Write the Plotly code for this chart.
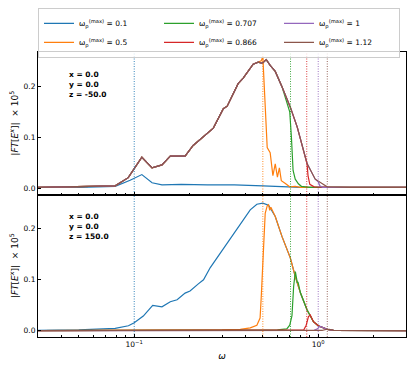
import plotly.graph_objects as go
from plotly.subplots import make_subplots

# omega_p^(max) values and matplotlib tab10 colours
wp_max = [0.1, 0.5, 0.707, 0.866, 1, 1.12]
wp_labels = ["0.1", "0.5", "0.707", "0.866", "1", "1.12"]
colors = ["#1f77b4", "#ff7f0e", "#2ca02c", "#d62728", "#9467bd", "#8c564b"]

# ---- top panel (z = -50) ----
# common curve shared by the 0.5 ... 1.12 runs up to their cut-off
top_w = [0.03, 0.05, 0.0788, 0.0928, 0.110, 0.125, 0.1415, 0.157, 0.189, 0.209,
         0.229, 0.256, 0.269, 0.305, 0.320, 0.367, 0.391, 0.443, 0.472, 0.496,
         0.522, 0.548, 0.584, 0.637, 0.705, 0.769, 0.871, 0.963, 1.119, 1.5, 3.0]
top_v = [0.002, 0.003, 0.005, 0.021, 0.061, 0.040, 0.046, 0.063, 0.063, 0.084,
         0.097, 0.112, 0.118, 0.156, 0.161, 0.205, 0.216, 0.243, 0.247, 0.245,
         0.252, 0.241, 0.229, 0.198, 0.159, 0.120, 0.048, 0.018, 0.003, 0.002, 0.002]

top_blue_w = [0.03, 0.05, 0.0788, 0.095, 0.110, 0.125, 0.1415, 0.18, 0.25, 0.35, 0.5, 0.6, 0.7, 0.8, 3.0]
top_blue_v = [0.002, 0.002, 0.004, 0.016, 0.027, 0.011, 0.007, 0.008, 0.007, 0.007, 0.005, 0.004, 0.003, 0.002, 0.002]

top_orange_tail_w = [0.49, 0.50, 0.515, 0.528, 0.548, 0.567, 0.584, 0.60, 0.615, 0.63, 0.66, 0.675, 0.70, 0.75, 0.8, 3.0]
top_orange_tail_v = [0.250, 0.258, 0.15, 0.08, 0.07, 0.025, 0.048, 0.022, 0.04, 0.015, 0.01, 0.007, 0.003, 0.004, 0.002, 0.002]
top_green_tail_w = [0.70, 0.715, 0.72, 0.73, 0.75, 0.78, 0.81, 0.9, 3.0]
top_green_tail_v = [0.15, 0.10, 0.061, 0.035, 0.018, 0.009, 0.004, 0.002, 0.002]
top_red_tail_w = [0.85, 0.87, 0.88, 0.90, 0.95, 1.2, 3.0]
top_red_tail_v = [0.06, 0.047, 0.025, 0.008, 0.003, 0.002, 0.002]
top_purple_tail_w = [1.0, 1.02, 1.06, 3.0]
top_purple_tail_v = [0.013, 0.005, 0.002, 0.002]

# ---- bottom panel (z = 150) ----
bot_blue_w = [0.03, 0.05, 0.0788, 0.093, 0.1, 0.112, 0.126, 0.1415, 0.157, 0.171,
              0.189, 0.201, 0.223, 0.238, 0.259, 0.293, 0.332, 0.377, 0.427, 0.464,
              0.50, 0.537]
bot_blue_v = [0.001, 0.002, 0.005, 0.010, 0.016, 0.029, 0.050, 0.047, 0.057, 0.061,
              0.074, 0.078, 0.092, 0.100, 0.124, 0.152, 0.182, 0.211, 0.237, 0.248,
              0.250, 0.246]
# falling edge shared by every run once it has switched on
bot_tail_w = [0.584, 0.635, 0.705, 0.751, 0.801, 0.87, 0.942, 1.0, 1.12, 1.21, 3.0]
bot_tail_v = [0.224, 0.185, 0.143, 0.106, 0.074, 0.041, 0.018, 0.010, 0.003, 0.001, 0.0005]

bot_orange_w = [0.03, 0.2, 0.3, 0.377, 0.427, 0.464, 0.483, 0.49, 0.50, 0.515, 0.528, 0.537, 0.545, 0.553]
bot_orange_v = [0.0005, 0.001, 0.002, 0.003, 0.006, 0.011, 0.025, 0.066, 0.133, 0.23, 0.245, 0.247, 0.236, 0.242]
bot_green_w = [0.03, 0.5, 0.6, 0.675, 0.70, 0.72, 0.735, 0.751, 0.762, 0.77, 0.776]
bot_green_v = [0.0005, 0.001, 0.002, 0.004, 0.011, 0.030, 0.087, 0.116, 0.104, 0.094, 0.096]
bot_red_w = [0.03, 0.8, 0.835, 0.86, 0.885, 0.905]
bot_red_v = [0.0005, 0.001, 0.002, 0.011, 0.028, 0.031]
bot_purple_w = [0.03, 0.95, 0.99, 1.02]
bot_purple_v = [0.0005, 0.001, 0.004, 0.009]
bot_brown_w = [0.03, 1.05, 1.1, 1.15, 1.21, 3.0]
bot_brown_v = [0.0005, 0.0008, 0.003, 0.003, 0.001, 0.0005]

y_range = [-0.012, 0.267]
minor_x = [0.03, 0.04, 0.05, 0.06, 0.07, 0.08, 0.09,
           0.2, 0.3, 0.4, 0.5, 0.6, 0.7, 0.8, 0.9, 2, 3]


def upto(w, v, wmax):
    idx = [i for i, x in enumerate(w) if x < wmax]
    return [w[i] for i in idx], [v[i] for i in idx]


def after(w, v, wmin):
    idx = [i for i, x in enumerate(w) if x >= wmin]
    return [w[i] for i in idx], [v[i] for i in idx]


top_series = [(top_blue_w, top_blue_v)]
for tw, tv in [(top_orange_tail_w, top_orange_tail_v), (top_green_tail_w, top_green_tail_v),
               (top_red_tail_w, top_red_tail_v), (top_purple_tail_w, top_purple_tail_v)]:
    hw, hv = upto(top_w, top_v, tw[0])
    top_series.append((hw + tw, hv + tv))
top_series.append((top_w, top_v))

bot_series = [(bot_blue_w + bot_tail_w, bot_blue_v + bot_tail_v)]
for hw, hv in [(bot_orange_w, bot_orange_v), (bot_green_w, bot_green_v),
               (bot_red_w, bot_red_v), (bot_purple_w, bot_purple_v)]:
    tw, tv = after(bot_tail_w, bot_tail_v, hw[-1] + 0.02)
    bot_series.append((hw + tw, hv + tv))
bot_series.append((bot_brown_w, bot_brown_v))

fig = make_subplots(rows=2, cols=1, shared_xaxes=True, vertical_spacing=0)

legend_rank = [1, 4, 2, 5, 3, 6]
for i in range(6):
    name = "ω<sub>p</sub><sup>(max)</sup> = " + wp_labels[i]
    fig.add_trace(go.Scatter(x=top_series[i][0], y=top_series[i][1], mode="lines",
                             line=dict(color=colors[i], width=1.2), name=name,
                             legendrank=legend_rank[i]), row=1, col=1)
    fig.add_trace(go.Scatter(x=bot_series[i][0], y=bot_series[i][1], mode="lines",
                             line=dict(color=colors[i], width=1.2), showlegend=False),
                  row=2, col=1)

# dotted cut-off markers
for i in range(6):
    for r in (1, 2):
        fig.add_trace(go.Scatter(x=[wp_max[i], wp_max[i]], y=y_range, mode="lines",
                                 line=dict(color=colors[i], width=0.9, dash="1px,1.5px"),
                                 showlegend=False, hoverinfo="skip"), row=r, col=1)

axis_common = dict(showline=True, linecolor="black", linewidth=1, mirror=True,
                   ticks="inside", ticklen=3, tickcolor="black", showgrid=False,
                   zeroline=False, automargin=False)

fig.update_xaxes(type="log", range=[-1.523, 0.477],
                 tickvals=[0.1, 1], ticktext=["10<sup>−1</sup>", "10<sup>0</sup>"],
                 minor=dict(ticks="inside", ticklen=2, tickcolor="black", showgrid=False,
                            tickvals=minor_x),
                 **axis_common)
fig.update_xaxes(showticklabels=False, row=1, col=1)
fig.update_xaxes(title=dict(text="<i>ω</i>", standoff=4), row=2, col=1)

ytitle = "|<i>FT</i>[<i>E</i><sup><i>x</i></sup>]|  × 10<sup>5</sup>"
fig.update_yaxes(range=y_range, tickvals=[0, 0.1, 0.2], ticktext=["0.0", "0.1", "0.2"],
                 title=dict(text=ytitle, standoff=8), **axis_common)

fig.add_annotation(text="<b>x = 0.0<br>y = 0.0<br>z = -50.0</b>", xref="x domain", yref="y domain",
                   x=0.08, y=0.89, xanchor="left", yanchor="top", showarrow=False,
                   align="left", font=dict(size=7.5))
fig.add_annotation(text="<b>x = 0.0<br>y = 0.0<br>z = 150.0</b>", xref="x2 domain", yref="y2 domain",
                   x=0.08, y=0.89, xanchor="left", yanchor="top", showarrow=False,
                   align="left", font=dict(size=7.5))

# the page puts the figure 8 px in from the top-left corner
fig.update_layout(
    width=407, height=361,
    margin=dict(l=30, r=9, t=44, b=32, autoexpand=False),
    plot_bgcolor="white", paper_bgcolor="white",
    font=dict(family="DejaVu Sans", size=7.5, color="black"),
    legend=dict(orientation="h", x=0, y=1.155, xanchor="left", yanchor="top",
                bordercolor="#cccccc", borderwidth=1, bgcolor="rgba(255,255,255,0.8)",
                entrywidth=75, font=dict(size=7.5), tracegroupgap=0),
    showlegend=True,
)

fig.write_html("out.html")
